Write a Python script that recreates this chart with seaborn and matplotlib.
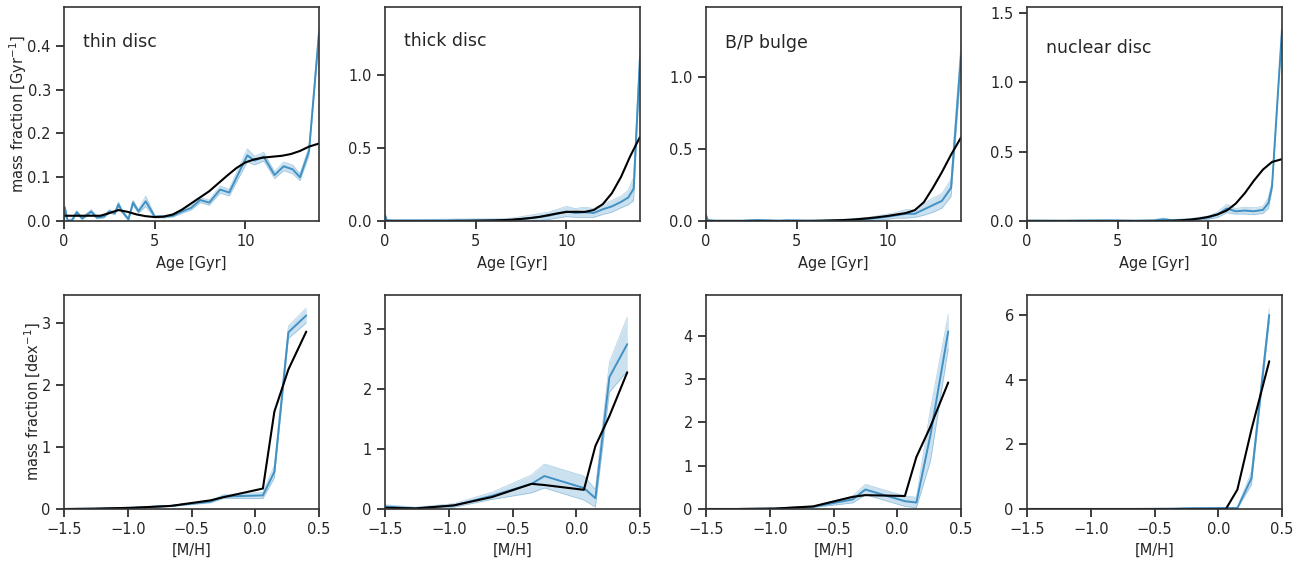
import numpy as np
import matplotlib
matplotlib.use("Agg")
import matplotlib.pyplot as plt
import seaborn as sns
from matplotlib.ticker import MultipleLocator, FormatStrFormatter

# ---------------- data ----------------
titles = ["thin disc", "thick disc", "B/P bulge", "nuclear disc"]

# black (model) curves vs age
age_black = [0, 1, 2, 2.5, 3, 3.5, 4, 4.5, 5, 5.5, 6, 6.5, 7, 7.5, 8, 8.5, 9, 9.5,
             10, 10.5, 11, 11.5, 12, 12.5, 13, 13.5, 14.05]
thin_black = [0.012, 0.012, 0.012, 0.018, 0.025, 0.021, 0.015, 0.011, 0.009, 0.010,
              0.015, 0.026, 0.040, 0.054, 0.068, 0.086, 0.104, 0.121, 0.134, 0.141,
              0.145, 0.147, 0.149, 0.153, 0.160, 0.170, 0.177]
thick_black = [0, 0, 0, 0, 0, 0, 0.001, 0.001, 0.002, 0.003, 0.004, 0.006, 0.009,
               0.014, 0.020, 0.028, 0.040, 0.052, 0.062, 0.063, 0.062, 0.075, 0.115,
               0.19, 0.30, 0.44, 0.575]
bulge_black = [0, 0, 0, 0, 0, 0, 0, 0, 0, 0, 0.001, 0.002, 0.004, 0.006, 0.009, 0.014,
               0.020, 0.027, 0.035, 0.045, 0.055, 0.075, 0.13, 0.23, 0.34, 0.46, 0.58]
nuc_black = [0, 0, 0, 0, 0, 0, 0, 0, 0, 0, 0, 0, 0, 0, 0.002, 0.005, 0.010, 0.018,
             0.030, 0.048, 0.075, 0.125, 0.20, 0.29, 0.37, 0.425, 0.445]

# blue (recovered) curves vs age: median and half spread
age_thin = [0.0, 0.05, 0.2, 0.45, 0.7, 1.0, 1.5, 1.8, 2.2, 2.5, 2.8, 3.0, 3.2, 3.55,
            3.8, 4.1, 4.5, 5.0, 5.5, 6.0, 6.4, 7.0, 7.5, 8.0, 8.6, 9.1, 10.1, 10.5,
            11.0, 11.6, 12.1, 12.6, 13.0, 13.5, 14.05]
thin_mid = [0.0, 0.03, 0.0, 0.002, 0.02, 0.006, 0.022, 0.008, 0.010, 0.022, 0.018,
            0.038, 0.022, 0.004, 0.042, 0.022, 0.045, 0.010, 0.010, 0.012, 0.020,
            0.030, 0.048, 0.042, 0.072, 0.065, 0.150, 0.138, 0.147, 0.105, 0.125,
            0.118, 0.100, 0.160, 0.43]
thin_err = [0.004, 0.006, 0.003, 0.003, 0.004, 0.003, 0.004, 0.003, 0.003, 0.004,
            0.004, 0.006, 0.004, 0.003, 0.006, 0.004, 0.012, 0.003, 0.003, 0.003,
            0.004, 0.005, 0.006, 0.006, 0.008, 0.008, 0.015, 0.010, 0.010, 0.008,
            0.010, 0.010, 0.008, 0.010, 0.015]

age_thick = [0.0, 0.1, 0.5, 2, 4, 6, 7, 8, 9, 9.5, 10, 10.5, 11, 11.5, 12, 12.5, 13,
             13.4, 13.7, 14.05]
thick_mid = [0.04, 0.005, 0.003, 0.003, 0.004, 0.005, 0.008, 0.02, 0.035, 0.05, 0.065,
             0.055, 0.06, 0.055, 0.08, 0.10, 0.13, 0.16, 0.22, 1.12]
thick_err = [0.01, 0.005, 0.005, 0.008, 0.01, 0.01, 0.012, 0.02, 0.025, 0.03, 0.035,
             0.03, 0.035, 0.03, 0.035, 0.04, 0.04, 0.05, 0.08, 0.08]

age_bulge = [0.0, 0.1, 0.5, 2, 2.8, 4, 4.5, 6, 7, 8, 9, 10, 10.5, 11, 11.5, 12, 12.5,
             13, 13.5, 14.05]
bulge_mid = [0.04, 0.005, 0.002, 0.002, 0.006, 0.002, 0.004, 0.002, 0.004, 0.008,
             0.015, 0.03, 0.04, 0.05, 0.05, 0.08, 0.11, 0.14, 0.23, 1.15]
bulge_err = [0.01, 0.004, 0.003, 0.003, 0.006, 0.003, 0.005, 0.003, 0.005, 0.008,
             0.012, 0.018, 0.02, 0.03, 0.025, 0.04, 0.05, 0.05, 0.06, 0.10]

age_nuc = [0, 2, 3, 4.5, 6, 7, 7.5, 8, 9, 10, 10.5, 11, 11.5, 12, 12.5, 13, 13.3,
           13.5, 14.05]
nuc_mid = [0.003, 0.002, 0.003, 0.004, 0.002, 0.004, 0.012, 0.005, 0.010, 0.025,
           0.045, 0.09, 0.07, 0.075, 0.07, 0.08, 0.13, 0.25, 1.38]
nuc_err = [0.003, 0.003, 0.004, 0.004, 0.003, 0.006, 0.010, 0.005, 0.008, 0.012,
           0.02, 0.03, 0.02, 0.025, 0.025, 0.025, 0.04, 0.03, 0.03]

# metallicity distributions
mh = [-1.79, -1.49, -1.26, -0.96, -0.66, -0.35, -0.25, 0.06, 0.15, 0.26, 0.40]
thin_mh_black = [0.0, 0.0, 0.005, 0.02, 0.05, 0.14, 0.19, 0.33, 1.57, 2.25, 2.86]
thin_mh_mid = [0.0, 0.0, 0.005, 0.02, 0.05, 0.12, 0.20, 0.22, 0.60, 2.85, 3.12]
thin_mh_err = [0.0, 0.003, 0.005, 0.008, 0.01, 0.02, 0.03, 0.05, 0.10, 0.10, 0.12]
thick_mh_black = [0.03, 0.02, 0.01, 0.06, 0.20, 0.42, 0.40, 0.32, 1.05, 1.55, 2.28]
thick_mh_mid = [0.05, 0.04, 0.01, 0.06, 0.22, 0.42, 0.55, 0.35, 0.18, 2.2, 2.75]
thick_mh_err = [0.03, 0.03, 0.02, 0.03, 0.06, 0.15, 0.20, 0.20, 0.15, 0.25, 0.45]
bulge_mh_black = [0, 0, 0, 0.01, 0.06, 0.28, 0.32, 0.30, 1.2, 1.9, 2.92]
bulge_mh_mid = [0, 0, 0, 0.01, 0.05, 0.22, 0.45, 0.18, 0.15, 1.7, 4.1]
bulge_mh_err = [0, 0.003, 0.003, 0.006, 0.015, 0.08, 0.12, 0.12, 0.12, 0.6, 0.4]
nuc_mh_black = [0, 0, 0, 0, 0, 0, 0, 0, 0.6, 2.45, 4.57]
nuc_mh_mid = [0, 0, 0, 0, 0, 0.01, 0.02, 0.03, 0.03, 0.95, 6.0]
nuc_mh_err = [0, 0.003, 0.003, 0.003, 0.005, 0.01, 0.015, 0.02, 0.02, 0.2, 0.2]

top_black = [thin_black, thick_black, bulge_black, nuc_black]
top_age = [age_thin, age_thick, age_bulge, age_nuc]
top_mid = [thin_mid, thick_mid, bulge_mid, nuc_mid]
top_err = [thin_err, thick_err, bulge_err, nuc_err]
bot_black = [thin_mh_black, thick_mh_black, bulge_mh_black, nuc_mh_black]
bot_mid = [thin_mh_mid, thick_mh_mid, bulge_mh_mid, nuc_mh_mid]
bot_err = [thin_mh_err, thick_mh_err, bulge_mh_err, nuc_mh_err]

top_ylim = [0.489, 1.463, 1.487, 1.54]
top_step = [0.1, 0.5, 0.5, 0.5]
bot_ylim = [3.45, 3.57, 4.94, 6.62]
bot_step = [1, 1, 1, 2]

# ---------------- style ----------------
sns.set_theme(style="ticks")
plt.rcParams["font.family"] = ["DejaVu Sans"]
plt.rcParams.update({
    "axes.edgecolor": "#333333",
    "axes.linewidth": 1.2,
    "xtick.labelsize": 10.5,
    "ytick.labelsize": 10.5,
    "axes.labelsize": 10.5,
    "text.color": "#262626",
    "axes.labelcolor": "#262626",
    "xtick.color": "#262626",
    "ytick.color": "#262626",
})

BLUE = "#3288c0"
W, H = 1304, 561
fig = plt.figure(figsize=(W / 100, H / 100), dpi=100)
lefts = [64, 385, 706, 1027]
aw, ah = 255, 214


def draw(ax, x, mid, err, xb, yb):
    x = np.asarray(x, float)
    mid = np.asarray(mid, float)
    err = np.asarray(err, float)
    lo = np.clip(mid - err, 0, None)
    hi = mid + err
    ax.fill_between(x, lo, hi, color=BLUE, alpha=0.25, lw=0)
    sns.lineplot(x=x, y=lo, ax=ax, color=BLUE, lw=0.5, alpha=0.4)
    sns.lineplot(x=x, y=hi, ax=ax, color=BLUE, lw=0.5, alpha=0.4)
    sns.lineplot(x=x, y=mid, ax=ax, color=BLUE, lw=1.4, alpha=0.9)
    sns.lineplot(x=xb, y=yb, ax=ax, color="black", lw=1.5)


for i in range(4):
    ax = fig.add_axes([lefts[i] / W, (H - 221) / H, aw / W, ah / H])
    draw(ax, top_age[i], top_mid[i], top_err[i], age_black, top_black[i])
    ax.set_xlim(0, 14.05)
    ax.set_ylim(0, top_ylim[i])
    ax.xaxis.set_major_locator(MultipleLocator(5))
    ax.yaxis.set_major_locator(MultipleLocator(top_step[i]))
    ax.yaxis.set_major_formatter(FormatStrFormatter("%.1f"))
    ax.set_xlabel("Age [Gyr]", labelpad=5)
    ax.set_ylabel("mass fraction [Gyr$^{-1}$]" if i == 0 else "", labelpad=-1)
    ty = [0.836, 0.841, 0.832, 0.808][i]
    ax.text(0.075, ty, titles[i], transform=ax.transAxes, fontsize=12.5,
            va="center", ha="left", color="#262626")

    axb = fig.add_axes([lefts[i] / W, (H - 509) / H, aw / W, ah / H])
    draw(axb, mh, bot_mid[i], bot_err[i], mh, bot_black[i])
    axb.set_xlim(-1.5, 0.5)
    axb.set_ylim(0, bot_ylim[i])
    axb.xaxis.set_major_locator(MultipleLocator(0.5))
    axb.yaxis.set_major_locator(MultipleLocator(bot_step[i]))
    axb.set_xlabel("[M/H]", labelpad=4)
    axb.set_ylabel("mass fraction [dex$^{-1}$]" if i == 0 else "", labelpad=-1)

fig.savefig("out.png", dpi=100)
